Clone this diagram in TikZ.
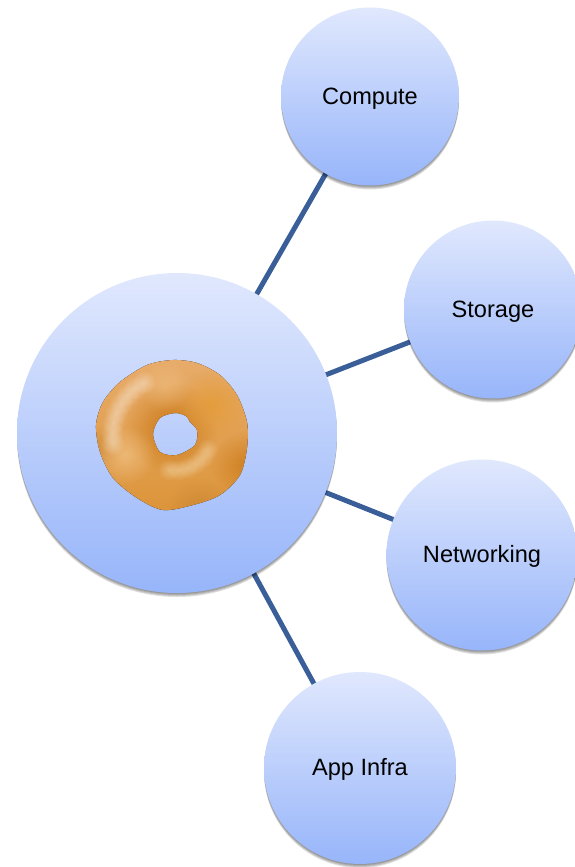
\documentclass[tikz,border=0pt]{standalone}
\usepackage{fontspec}
\setmainfont{Liberation Sans}
\usetikzlibrary{shadows,fadings,backgrounds}
\definecolor{linkblue}{HTML}{3A5F98}
\definecolor{bubbletop}{HTML}{E0E8FD}
\definecolor{bubblebottom}{HTML}{97B5FA}
\definecolor{crustA}{HTML}{E8AC6C}
\definecolor{crustB}{HTML}{DC9438}
\definecolor{deep}{HTML}{C87410}
\definecolor{rim}{HTML}{C4802F}
\definecolor{glazeB}{HTML}{E49C38}
\definecolor{shineA}{HTML}{F6E6D2}
\definecolor{shineB}{HTML}{F5DDB0}
\definecolor{shineC}{HTML}{EFBE80}
\tikzfading[name=softblob,inner color=transparent!0,outer color=transparent!100]
\tikzset{
  softshadow/.style={general shadow={shadow xshift=0pt,shadow yshift=-#1,fill=black,opacity=0.12}},
  bubble/.style={circle,inner sep=0pt,draw=none,top color=bubbletop,bottom color=bubblebottom,
    font=\fontsize{23.6}{28}\selectfont,text=black,text height=20pt,text depth=5pt,
    softshadow=1pt,softshadow=2pt,softshadow=3pt,softshadow=4pt},
  link/.style={draw=linkblue,line width=5pt},
  blob/.style={path fading=softblob}
}
\begin{document}
\begin{tikzpicture}[x=1pt,y=-1pt]
\useasboundingbox (0,0) rectangle (574,867);
\node[bubble,minimum size=320pt] (hub) at (177,433) {};
\node[bubble,minimum size=178pt] (compute) at (370,96.5) {Compute};
\node[bubble,minimum size=178pt] (storage) at (493,309.5) {Storage};
\node[bubble,minimum size=191pt] (networking) at (482,555) {Networking};
\node[bubble,minimum size=192pt] (appinfra) at (360,768) {App Infra};
\begin{scope}[on background layer]
  \draw[link] (hub.center) -- (compute.center);
  \draw[link] (hub.center) -- (storage.center);
  \draw[link] (hub.center) -- (networking.center);
  \draw[link] (hub.center) -- (appinfra.center);
\end{scope}
% doughnut
\begin{scope}[even odd rule]
  \clip plot[smooth cycle] coordinates {(173,360) (197,363) (220,375) (237,395) (247,422) (247,448) (240,475) (220,495) (193,505) (163,510) (137,498) (113,478) (100,452) (96,425) (103,402) (120,382) (147,365)}
     plot[smooth cycle] coordinates {(175,413) (186,416) (190,422) (197,430) (195,445) (177,455) (160,452) (153,434) (160,418)};
  \fill[top color=crustA,bottom color=crustB] (90,355) rectangle (255,515);
  \fill[blob,fill=deep,opacity=.9] (172,428) circle[radius=46];
  \fill[blob,fill=glazeB,opacity=.85] (212,405) circle[radius=36];
  \fill[blob,fill=deep,opacity=.65] (245,465) circle[radius=34];
  \fill[blob,fill=rim,opacity=.6] (200,512) circle[radius=34];
  \fill[blob,fill=rim,opacity=.5] (98,450) circle[radius=24];
  \fill[blob,fill=shineC,opacity=.8] (125,455) circle[radius=30];
  \fill[blob,fill=shineC,opacity=.6] (165,385) circle[radius=26];
  \foreach \a in {172,182,...,242}
    \fill[blob,fill=shineA,opacity=.5] ({172+60*cos(\a)},{435+60*sin(\a)}) circle[radius=12];
  \foreach \a in {25,40,...,100}
    \fill[blob,fill=shineB,opacity=.45] ({175+36*cos(\a)},{434+36*sin(\a)}) circle[radius=11];
\end{scope}
\end{tikzpicture}
\end{document}
